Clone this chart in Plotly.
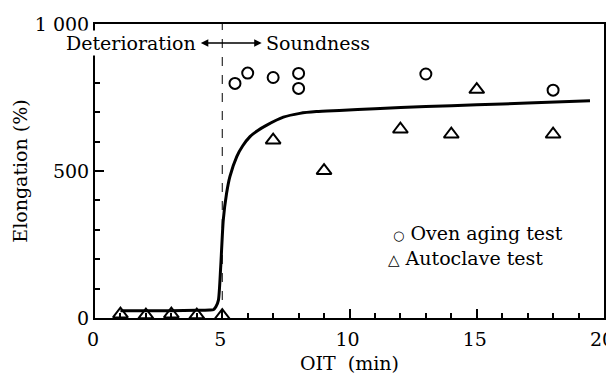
import plotly.graph_objects as go

# Oven aging test (circles)
oven_oit = [5.5, 6.0, 7.0, 8.0, 8.0, 13.0, 18.0]
oven_elong = [798, 833, 818, 832, 781, 830, 775]

# Autoclave test (triangles)
auto_oit = [1.0, 2.0, 3.0, 4.0, 5.0, 7.0, 9.0, 12.0, 14.0, 15.0, 18.0]
auto_elong = [13, 10, 13, 10, 8, 605, 501, 642, 625, 777, 625]

# Fitted trend curve
curve_oit = [1.0, 2.0, 3.0, 4.0, 4.5, 4.65, 4.75, 4.85, 4.94, 5.04, 5.17,
             5.30, 5.57, 5.8, 6.09, 6.4, 6.75, 7.4, 8.05, 8.7, 9.6, 11.0, 13.0, 15.0, 17.0, 19.45]
curve_elong = [25, 25, 25, 26, 27, 28, 38, 61, 175, 333, 424,
               481, 549, 585, 617, 638, 656, 683, 696, 702, 706, 712, 719, 725, 731, 739]

BOUNDARY_OIT = 5
x_ticks = [0, 5, 10, 15, 20]
y_ticks = [0, 500, 1000]
y_tick_text = ["0", "500", "1 000"]

FONT = "DejaVu Serif, serif"
FS = 19

fig = go.Figure()
fig.add_trace(go.Scatter(x=curve_oit, y=curve_elong, mode="lines", line_shape="spline",
                         line=dict(color="black", width=3, smoothing=0.6), showlegend=False,
                         cliponaxis=False))
fig.add_trace(go.Scatter(x=oven_oit, y=oven_elong, mode="markers",
                         marker=dict(symbol="circle-open", size=11, color="black",
                                     line=dict(width=2, color="black")),
                         showlegend=False, cliponaxis=False))
fig.add_trace(go.Scatter(x=auto_oit, y=auto_elong, mode="markers",
                         marker=dict(symbol="triangle-up-open", size=13, color="black",
                                     line=dict(width=2, color="black")),
                         showlegend=False, cliponaxis=False))

fig.add_vline(x=BOUNDARY_OIT, line=dict(color="black", width=1, dash="dash"))

# Region labels
fig.add_annotation(x=4.05, y=935, text="Deterioration", showarrow=False,
                   xanchor="right", yanchor="middle", bgcolor="white",
                   font=dict(family=FONT, size=FS, color="black"))
fig.add_annotation(x=6.65, y=935, text="Soundness", showarrow=False,
                   xanchor="left", yanchor="middle",
                   font=dict(family=FONT, size=FS, color="black"))
fig.add_annotation(x=6.55, y=935, ax=4.1, ay=935, axref="x", ayref="y",
                   xref="x", yref="y", text="", showarrow=True,
                   arrowhead=2, startarrowhead=2, arrowside="end+start",
                   arrowsize=1, arrowwidth=1.5, arrowcolor="black")

# Legend as text
fig.add_annotation(x=11.65, y=290, text="<span style='font-size:13px'>○</span> Oven aging test",
                   showarrow=False, xanchor="left", yanchor="middle",
                   font=dict(family=FONT, size=FS, color="black"))
fig.add_annotation(x=11.45, y=204, text="<span style='font-size:15px'>△</span> Autoclave test",
                   showarrow=False, xanchor="left", yanchor="middle",
                   font=dict(family=FONT, size=FS, color="black"))

fig.update_xaxes(range=[0, 20], tickvals=x_ticks, ticks="inside", ticklen=9,
                 tickwidth=1.5, tickcolor="black", showline=True, linecolor="black",
                 linewidth=2, mirror=True, showgrid=False, zeroline=False,
                 minor=dict(dtick=1, ticks="inside", ticklen=5, tickcolor="black", showgrid=False),
                 title=dict(text="OIT\u00a0\u00a0(min)", font=dict(family=FONT, size=FS, color="black"), standoff=8),
                 tickfont=dict(family=FONT, size=FS, color="black"), automargin=False,
                 ticklabelstandoff=3, ticklabeloverflow="allow", ticklabelshift=-2)
fig.update_yaxes(range=[0, 1000], tickvals=y_ticks, ticktext=y_tick_text, ticks="inside",
                 ticklen=9, tickwidth=1.5, tickcolor="black", showline=True,
                 linecolor="black", linewidth=2, mirror=True, showgrid=False, zeroline=False,
                 minor=dict(dtick=100, ticks="inside", ticklen=5, tickcolor="black", showgrid=False),
                 title=dict(text="Elongation (%)", font=dict(family=FONT, size=FS, color="black"), standoff=2),
                 tickfont=dict(family=FONT, size=FS, color="black"), automargin=False,
                 ticklabeloverflow="allow")

# page body has an 8px default margin; compensate so the plot area lands at the same pixels
fig.update_layout(width=606, height=370, margin=dict(l=87, r=10, t=16, b=60),
                  plot_bgcolor="white", paper_bgcolor="white", showlegend=False)

fig.write_html("out.html")
